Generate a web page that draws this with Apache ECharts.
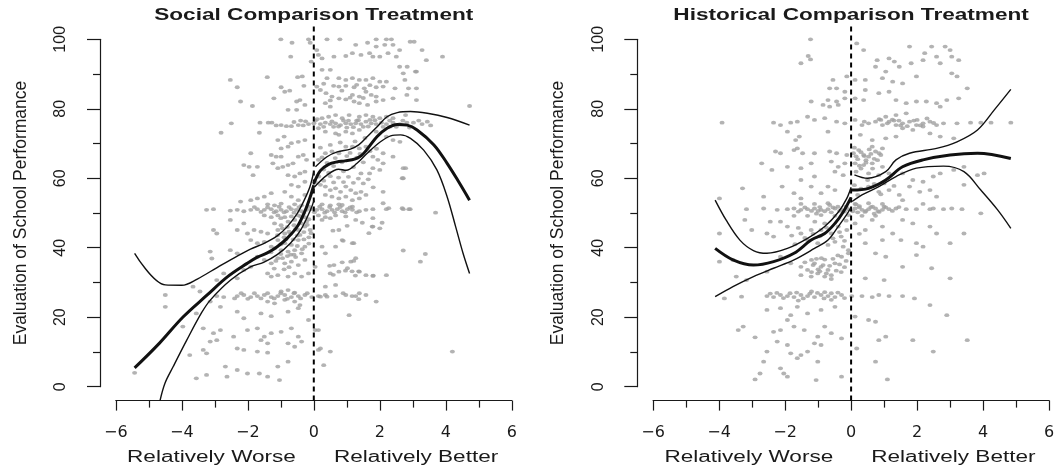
<!DOCTYPE html>
<html>
<head>
<meta charset="utf-8">
<script src="https://cdn.jsdelivr.net/npm/echarts@6/dist/echarts.min.js"></script>
<style>
  html, body { margin: 0; padding: 0; background: #fff; }
  #chart { width: 1060px; height: 472px; }
</style>
</head>
<body>
<div id="chart"></div>
<script>
const xTicks = [-6, -4, -2, 0, 2, 4, 6];
const yTicks = [0, 20, 40, 60, 80, 100];
const panelTitles = ['Social Comparison Treatment', 'Historical Comparison Treatment'];
const sideLabels = ['Relatively Worse', 'Relatively Better'];
const yTitle = 'Evaluation of School Performance';

// scatter (x = relative position, y = evaluation)
const socialPoints = [
  [-1.0,100],[-0.66,99],[-0.16,100],[-0.11,99],[0.4,100],[0.79,100],[1.27,98.4],[1.63,99],[1.89,100],[2.2,100],
  [2.35,100],[1.89,97.9],[2.15,98.4],[2.4,98.4],[2.92,99.3],[3.04,99.3],[3.28,96.9],[3.41,94],[3.9,95],[0.09,96.9],
  [0.14,95.5],[-0.08,93.6],[0.25,94.5],[0.61,95],[0.97,95.2],[1.17,96],[1.43,95.5],[1.69,96],[1.79,95],[2.0,95],
  [2.25,96],[2.5,95],[2.6,96.9],[-0.7,95],[2.6,92.1],[3.11,90.7],[2.71,90.2],[3.08,90.7],[2.83,92.1],
  [-1.41,89.1],[-2.53,88.3],[-2.32,86.2],[-0.99,86.2],[-0.88,84.9],[-0.73,85.2],[-0.49,89.1],[-0.35,89.3],[-0.3,86.6],[0.25,91.2],
  [0.5,91.2],[0.4,88.8],[0.76,88.8],[0.97,88.3],[1.17,88.8],[1.38,88.3],[1.58,88.3],[1.79,88.8],[2.0,87.8],[2.2,87.8],
  [0.76,86.4],[0.97,86.6],[1.22,86.2],[1.53,85.9],[1.89,86.2],[2.1,86.4],[2.46,85.9],[2.76,88.3],[2.87,85.9],[3.11,85.9],
  [0.09,86.4],[0.2,85.4],[0.37,84.5],[0.55,83.5],[0.76,83],[0.97,82.7],[1.17,84],[1.38,83.5],[1.58,84.9],[1.74,84],
  [1.89,83.5],[2.1,82.5],[2.4,83],[2.82,84],[-2.22,82.1],[-1.21,83],[-0.52,82.1],[-0.42,82.5],[-0.27,81.1],[0.35,81.6],
  [0.5,80.6],[1.22,82.1],[1.38,81.6],[1.63,81.1],[1.89,82.1],[3.11,82.5],[4.72,80.8],[-0.78,79.7],[-0.52,79.7],[-1.86,80.8],
  [0.3,87.2],[0.6,86.6],[0.85,85.2],[1.1,83.2],[1.3,86.9],[1.5,83.1],[1.7,86.8],[0.5,82.4],
  [-2.5,75.8],[-1.63,76],[-1.38,76],[-1.27,76],[-1.14,75.2],[-0.99,75.3],[-0.83,75],[-0.68,75],[-0.47,75.3],[-0.32,75.2],
  [-0.16,75.6],[0,75.8],[0.2,75.6],[0.35,76],[0.5,75.6],[0.66,75.8],[0.81,75.3],[0.97,75.8],[1.12,75.6],[1.27,75.8],
  [1.43,75.6],[1.58,76.3],[1.74,75.8],[1.89,75.6],[2.05,76],[2.2,75.6],[2.4,76],[2.61,75.6],[2.82,76],[3.02,76],
  [3.28,75.6],[3.54,75.2],[0.25,77.3],[0.45,77.7],[0.66,78.2],[0.86,77.3],[1.07,78.2],[1.38,77.7],[1.58,78.2],[1.79,77.7],
  [2.0,77.3],[2.2,77.7],[2.4,77.3],[0.35,73.4],[0.66,72.9],[0.76,72.5],[0.97,73.4],[1.17,72.9],[0.14,74.4],[1.38,73.9],
  [1.89,73.4],[2.2,72],[2.4,71],[2.61,70.5],[-2.81,73.1],[-1.65,73.1],[-1.09,71],[-0.9,72],[-0.68,70.1],[-0.47,70.5],
  [-0.27,71],[-0.99,68.6],[-0.78,69.1],[0.6,74.8],[1.0,74.6],[1.5,74.8],[1.3,76.6],[0.9,76.6],[1.7,76.8],[2.3,74.8],
  [2.9,74.6],[0.1,77],[-0.4,76.6],[2.78,78.2],[3.18,76.6],[3.44,76.3],
  [0.3,74.8],[0.55,76.4],[0.75,74.9],[1.05,76.6],[1.2,74.7],[1.35,76.7],[1.65,74.9],[1.85,76.7],[2.1,74.8],[2.3,76.6],
  [2.5,74.8],[2.7,76.6],[0.05,76.6],[-0.25,76.4],[-0.6,76.2],
  [-1.91,67.2],[-2.12,63.8],[-1.96,63.3],[-1.71,63.3],[-1.84,60.9],[-1.29,66.7],[-1.14,66.2],[-0.99,66.2],[-1.24,64.3],[-1.09,62.9],
  [-0.94,63.3],[-0.78,63.8],[-0.63,64.3],[-0.47,66.2],[-0.32,66.7],[-0.22,65.3],[-0.78,60.9],[-0.58,60.5],[-0.42,61.4],[-0.27,61.9],
  [0.14,65.3],[0.35,67.2],[0.55,67.7],[0.76,67.2],[0.97,69.1],[1.17,69.1],[1.38,68.6],[1.58,69.1],[1.79,66.2],[1.94,65.3],
  [2.1,64.3],[1.79,62.9],[2.0,62.4],[1.69,61.4],[1.43,61.4],[2.71,62.9],[2.71,60],[2.1,67.2],[2.4,66.2],[0.3,62.5],
  [0.6,63.5],[0.9,62],[1.2,63.2],[1.5,64.6],[0.5,60.6],[1.0,66.4],[1.3,65.9],[0.2,68.8],[2.78,62.9],[2.68,60],
  [0.15,60.5],[0.3,59.3],[0.45,61.6],[0.6,58.8],[0.75,60.2],[0.9,58.9],[1.05,60.4],[1.2,58.7],[1.35,59.9],[1.5,58.5],
  [1.65,59.7],[1.8,57.4],[0.4,64.4],[0.65,65.8],[0.85,64.6],[1.1,67.3],[1.4,67],[1.7,67.8],[1.9,68.5],[0.25,66],
  [0.5,69.6],[0.8,70.3],[1.25,70.6],[1.55,71.6],
  [0.04,59],[0.2,58.1],[0.35,57.6],[0.5,56.6],[0.66,57.1],[0.81,56.1],[0.97,57.6],[1.12,56.6],[1.27,55.7],[1.43,56.1],
  [1.58,55.2],[0.35,55.2],[0.55,54.7],[0.76,54.2],[0.97,54.7],[1.17,53.7],[1.38,54.2],[0.86,52.3],[1.17,51.8],[2.1,56.1],
  [2.1,52.8],[-0.68,58.1],[-0.47,57.6],[-0.27,59],[-0.88,56.1],[-0.68,54.7],[-0.47,53.7],[-0.27,55.2],[-1.29,55.7],[-1.5,54.7],
  [-2.22,53.3],[-1.91,53.7],[-1.71,54.2],
  [-3.25,50.9],[-3.04,51.1],[-2.53,50.7],[-2.32,50.9],[-2.12,50.5],[-1.91,50.9],[-1.71,51.1],[-1.5,50.9],[-1.29,51.1],[-1.14,50.5],
  [-0.99,50.9],[-0.83,50.5],[-0.68,51.1],[-0.53,50.9],[-0.37,50.5],[-0.22,50.9],[-0.06,51.1],[0.09,50.9],[0.25,51.1],[0.4,50.5],
  [0.55,50.9],[0.71,51.1],[0.86,50.5],[1.02,51.1],[1.17,50.9],[1.38,50.5],[1.58,50.9],[1.79,51.1],[2.2,51.1],[2.71,51.1],
  [2.92,51.1],[3.69,50.1],[2.27,51.4],[2.68,51.4],[2.88,51.1],
  [-1.8,51.7],[-1.6,50.3],[-1.4,51.6],[-1.2,50.2],[-1.05,51.8],[-0.9,50.2],[-0.75,51.7],[-0.6,50.1],[-0.45,51.7],[-0.3,50.1],
  [-0.15,51.8],[0.02,50.2],[0.18,51.8],[0.33,50.1],[0.48,51.7],[0.63,50.2],[0.8,51.7],[0.95,50.2],[1.1,51.6],[1.3,50.2],
  [-1.5,49.3],[-1.29,48.8],[-1.09,49.3],[-0.88,48.8],[-0.68,49],[-0.47,49.3],[-0.27,48.8],[0.14,49.3],[0.35,48.8],[0.66,49.3],
  [0.97,49],[-1.4,52.5],[-1.19,52.2],[-0.99,52.7],[-0.58,52.5],[-0.37,52.2],[0.25,52.5],[0.5,52.2],[0.76,52.5],
  [-2.53,48],[-2.12,47],[-3.04,45.1],[-2.94,44.1],[-2.32,45.1],[-2.01,44.1],[-1.81,45.1],[-1.6,44.6],[-1.4,44.1],[-1.19,47],
  [-0.99,46.5],[-0.78,47.5],[-0.58,48],[-0.37,47],[-0.22,47.5],[-1.09,45.1],[-0.88,44.1],[-0.47,45.1],[-0.27,46.1],[-0.11,45.1],
  [0.25,48],[0.5,48.5],[0.76,45.1],[1.27,48],[1.79,46.1],[2.0,45.6],[1.79,48.5],[-1.91,42.2],[-1.71,41.3],[-1.5,41.7],
  [-1.29,40.3],[-1.09,42.2],[-0.88,41.3],[-0.68,40.8],[-0.47,42.2],[-0.27,40.3],[-1.19,39.8],[-0.99,39.3],[-0.78,38.9],[-0.58,39.3],
  [-0.37,38.4],[0.25,40.3],[0.86,42.2],[1.17,41.3],[-3.14,38.9],[-3.09,36.9],[-2.53,39.3],[-2.32,38.4],[-0.9,43],[-0.7,44],
  [-0.5,43.5],[-0.3,44.5],[-0.15,43],[-0.6,46.5],[-0.8,46],[-1.0,48.5],[-0.4,49],[-0.15,48.2],[1.67,44.2],[2.07,47.2],
  [1.77,46.1],[1.47,47.2],[1.01,46.3],[0.58,44.9],[0.89,42],[1.21,41.3],
  [-1.1,43.6],[-0.95,45.6],[-0.85,42.4],[-0.75,44.6],[-0.62,42.4],[-0.55,45.4],[-0.42,43.7],[-0.3,42.4],[-0.2,46.6],[-0.08,44.2],
  [-1.0,41],[-0.7,38],[-0.5,40.5],[-0.35,39.6],[-0.15,41.2],[-1.3,38.7],[-1.15,36.2],[-0.95,37],[-0.75,34.4],[-0.55,37.3],
  [-1.71,37.4],[-1.5,36.5],[-1.29,35.5],[-1.09,37],[-0.88,35.5],[-0.68,36],[-0.47,35],[-0.27,36.5],[-1.4,32.6],[-1.29,31.7],
  [-1.09,32.1],[-0.78,31.7],[-0.58,32.6],[-0.37,31.7],[-0.16,32.6],[-1.91,34.5],[-2.12,33.6],[-2.32,31.2],[-2.73,32.6],[-2.94,30.7],
  [0.04,34.5],[0.5,32.6],[0.76,33.1],[1.02,34.1],[1.38,33.1],[1.58,32.1],[1.79,31.9],[2.2,32.1],[0.61,35],[1.12,36],
  [1.27,37],[2.71,39.2],[3.38,38.2],[3.23,36],[0.35,38.4],[0.66,40.3],[-3.66,28.8],[-3.45,27.4],[-1.0,38.2],[-0.8,37.6],
  [-0.6,38],[-1.2,34],[-0.9,33.8],[0.86,35.8],[1.21,36.2],[0.48,34.8],[0.96,33.4],[1.16,33.2],[1.36,33.2],[0.59,32.2],
  [1.26,32],[1.8,32],
  [-4.5,26.4],[-4.5,23],[-2.94,26.1],[-2.73,25.8],[-2.32,26.1],[-2.12,26.4],[-1.91,25.8],[-1.71,26.1],[-1.5,26.4],[-1.29,25.8],
  [-1.09,26.1],[-0.88,26.4],[-0.68,25.8],[-0.47,26.1],[-0.27,26.4],[-0.06,25.8],[0.14,26.1],[0.35,26.4],[0.66,26.1],[0.97,26.4],
  [1.27,26.1],[1.58,26.4],[-0.99,27.4],[-0.78,27.8],[-0.58,27.1],[-1.4,24.5],[-1.19,24],[-0.88,25],[-0.58,24.5],[-0.42,23.5],
  [-1.8,26.9],[-1.6,25.4],[-1.4,26.9],[-1.2,25.4],[-1.0,26.9],[-0.8,25.3],[-0.6,26.9],[-0.4,25.4],[-0.2,26.9],[-2.0,25.3],
  [-2.2,26.9],[-2.4,25.4],
  [-3.14,24.5],[-2.83,23],[-2.32,21.6],[-2.12,19.7],[-1.6,21.1],[-1.29,20.3],[-0.78,21.6],[-0.47,22.6],[1.07,20.6],[1.89,24.5],
  [0.35,28.8],[0.66,29.3],[1.38,26.9],[-3.56,21.1],[-3.97,17.3],[0.89,26.9],[1.16,26.1],[1.36,25.2],[0.4,25.9],[0.2,25.9],
  [-3.35,16.8],[-3.04,15.4],[-2.83,16.3],[-3.14,13],[-2.94,13.4],[-2.43,14.4],[-2.01,16.3],[-1.71,16.8],[-1.5,14.4],[-1.29,15.4],
  [-0.99,15.8],[-0.68,16.8],[-0.47,14.4],[-1.6,13.4],[-1.4,12.5],[-0.78,12.5],[-0.58,11.5],[-0.37,13],[-2.32,11],[-2.12,10.6],
  [-1.71,10.1],[-1.4,9.8],[-3.35,10.6],[-3.25,9.6],[-3.76,9.1],[-0.16,19.2],[0.14,16.3],[0.2,11],[0.5,10.1],[4.2,10.1],
  [0.14,10.6],[0.04,16.3],
  [-3.56,2.4],[-3.25,3.4],[-2.68,5.8],[-2.63,2.9],[-2.32,4.8],[-2.01,3.8],[-1.65,3.8],[-1.4,2.9],[-1.04,1.9],[-0.78,7.2],
  [0.3,6.2],[-5.43,4.0],[-1.09,5.8]
];

const historicalPoints = [
  [-1.23,100],[-1.3,95.2],[-1.23,94.2],[-1.52,93.1],[0.17,98.8],[0.38,96.9],[1.77,97.9],[2.23,96],[2.44,97.9],[2.59,95],
  [2.85,97.9],[3.0,96.9],[3.05,95],[3.26,94],[0.79,94],[1.15,94.5],[1.31,93.6],[1.82,93.1],[2.18,94],[2.7,93.1],
  [0.74,92.1],[1.05,90.7],[1.46,92.1],[1.98,89.3],[3.05,90.2],[3.21,89.3],[-0.13,89.3],[0.12,88.3],[0.43,88.3],[0.95,88.8],
  [1.26,87.8],[1.56,87.3],[-0.55,88.3],[-0.44,85.9],[-0.65,85.9],[-0.19,84.9],[0.43,85.4],[0.84,84.5],[1.15,84.9],[3.52,85.9],
  [3.26,83],[-1.21,82.1],[-0.85,81.1],[-0.7,82.5],[-0.44,82.1],[-0.19,83],[0.12,83],[0.38,82.5],[1.36,82.5],[1.67,81.6],
  [1.98,82.1],[2.28,82.1],[2.59,81.6],[2.7,80.6],[2.9,82.5],[-0.65,80.6],[-0.39,81.1],
  [-3.91,76],[-2.35,76],[-2.14,75.3],[-1.83,76],[-1.63,76.3],[-1.32,77.7],[-1.11,76.8],[-0.8,77.3],[-0.44,76.3],[-0.19,75.8],
  [0.12,76.8],[0.33,75.3],[0.53,75.8],[0.74,76.3],[0.95,75.3],[1.15,76.3],[1.36,75.3],[1.56,75.8],[1.77,76.3],[1.98,75.3],
  [2.18,75.8],[2.39,76.3],[2.59,75.3],[2.8,75.8],[3.21,75.8],[3.62,76],[3.93,76],[4.24,76],[4.84,76],[1.05,77.7],
  [1.36,78.2],[1.67,78.7],[1.56,74.4],[1.87,73.9],[2.18,74.9],[-1.93,73.4],[-1.57,72],[-0.7,73.4],[0.28,72.5],[0.64,71],
  [1.05,71.5],[1.36,72],[2.39,72.9],[2.7,72],[3.11,71.5],[0.64,69.1],[0.95,68.6],[-1.68,71],[-1.63,68.6],[1.25,76.9],
  [1.7,75],[2.0,76.8],[1.45,76.6],[0.85,77],[2.3,77.2],
  [1.1,75.8],[1.3,76.6],[1.5,75.2],[1.9,76.6],[2.1,75.2],[2.5,75.9],[0.4,76.3],[0.9,76.8],
  [-2.29,67.7],[-2.14,67.2],[-1.73,68.1],[-1.47,67.2],[-1.11,67.2],[-2.71,64.3],[-2.4,62.4],[-1.93,63.3],[-1.52,62.9],[-1.21,64.3],
  [-0.65,67.7],[-0.44,67.2],[-0.13,66.7],[0.07,67.2],[0.23,68.1],[0.38,66.7],[0.53,66.2],[0.74,67.7],[0.9,66.7],[-0.6,64.8],
  [-0.39,63.3],[-0.19,64.3],[0.12,64.3],[0.38,63.8],[0.64,64.3],[0.95,63.3],[-0.49,61.9],[-0.24,60.9],[0.53,61.4],[0.84,60.9],
  [1.15,61.4],[1.56,61.4],[1.87,59.5],[2.18,59],[2.49,60.5],[2.7,61.4],[3.11,62.4],[3.42,63.3],[3.83,60.9],[4.03,61.4],
  [3.42,58.1],[-1.52,59.5],[-1.11,60.5],[0.2,65.5],[0.45,65.2],[0.3,62.8],[0.6,67],[0.15,61.9],[0.8,65.2],
  [0.15,66.3],[0.3,67.5],[0.45,64.5],[0.55,68.3],[0.7,65.6],[0.85,67.2],[0.25,63.6],[0.65,62.8],[0.4,66.4],[0.1,68.8],
  [-3.29,57.1],[-2.65,54.7],[-3.99,54.2],[-2.09,57.6],[-1.73,55.7],[-1.52,54.2],[-1.21,57.6],[-0.91,55.7],[-0.7,57.6],[-0.49,56.6],
  [0.53,57.6],[0.84,56.1],[1.15,56.6],[1.46,55.2],[1.77,57.6],[2.08,56.1],[2.39,56.6],[2.59,54.7],
  [0.1,58],[0.3,57],[0.5,59.5],[0.7,58.4],[0.9,55.4],[0.2,55.2],[1.0,58.5],[1.3,57.8],
  [-3.17,51.1],[-2.65,51.3],[-2.24,50.9],[-1.93,51.1],[-1.73,51.3],[-1.52,50.9],[-1.32,51.1],[-1.11,51.3],[-0.91,50.9],[-0.7,51.1],
  [-0.49,51.3],[-0.29,50.9],[-0.08,51.1],[0.12,51.3],[0.33,50.9],[0.53,51.1],[0.74,51.3],[0.95,50.9],[1.15,51.1],[1.36,51.3],
  [1.67,51.1],[1.98,51.1],[2.39,51.1],[2.8,51.1],[3.05,51.3],[3.36,51.1],
  [-1.4,51.6],[-1.2,50.6],[-0.95,51.7],[-0.8,50.5],[-0.55,51.6],[-0.35,50.6],[-0.15,51.8],[0.05,50.5],[0.25,51.6],[0.42,50.3],
  [0.6,51.7],[0.82,50.5],[1.0,51.8],[1.25,50.6],[1.45,51.7],[-1.6,50.4],[-1.05,49.8],[-0.65,52.3],[0.15,52.5],[0.7,49.8],
  [-1.52,52.6],[-1.11,52.6],[-0.7,52.8],[0.12,52.6],[0.53,52.8],[0.95,52.6],[1.56,53.7],[-1.73,49.2],[-1.32,49.2],[-0.91,49.4],
  [-0.49,49.2],[-0.08,49.4],[0.33,49.2],[0.74,49.2],[3.93,49.9],[2.18,52.6],[2.49,51.3],[0.2,50.2],[0.45,50.6],[0.65,51.8],
  [0.85,50.3],[1.05,51.6],[0.25,52],[-0.2,50.4],[-0.4,51.8],[-0.6,50.2],[-1.0,50.6],
  [-3.22,48],[-3.99,44.1],[-3.01,45.1],[-2.45,47.5],[-2.14,47.5],[-1.93,46.1],[-2.55,44.1],[-2.35,43.2],[-1.52,44.1],[-1.21,45.1],
  [-0.91,45.1],[-0.6,44.1],[-0.39,46.1],[-0.13,45.1],[0.12,47],[0.43,45.1],[0.64,48],[0.95,46.1],[1.26,44.1],[1.56,48],
  [1.87,47],[2.39,46.1],[2.59,44.1],[3.42,44.1],[-1.32,42.2],[-1.01,41.3],[-0.7,40.8],[-0.49,41.7],[-0.24,40.3],[-0.08,39.3],
  [0.43,41.3],[0.95,42.2],[1.51,42.2],[1.98,41.3],[2.18,40.3],[3.0,41.3],[-0.3,43.2],[-0.8,47],[-1.1,47.5],[0.25,44],
  [-0.15,47.8],[-1.8,43.5],[-1.6,45.7],[-1.4,42.8],[-1.15,44],[-0.95,43.3],[-0.75,45.8],[-0.55,42.7],[-0.35,44.5],[-0.2,42],
  [-1.7,41],
  [-3.99,36],[-3.58,36.5],[-2.14,37.4],[-1.83,35.5],[-1.52,34.5],[-1.32,33.6],[-1.11,35.5],[-0.91,34.5],[-0.7,33.6],[-0.49,35.5],
  [-0.29,37.4],[-1.52,32.1],[-1.21,31.7],[-1.01,32.6],[-0.8,31.7],[-0.6,32.1],[-0.08,38.4],[0.74,38.4],[1.05,37.4],[1.98,37.9],
  [0.43,31.2],[1.0,30.7],[1.56,34.5],[2.44,34.1],[3.0,31.2],[-2.55,33.1],[-3.17,30.7],[-3.48,31.7],[-1.2,36.5],[-1.0,33.8],
  [-0.8,36.6],[-1.4,35.8],[-0.3,33],
  [-1.2,33],[-1.05,36.8],[-0.95,33.2],[-0.85,35],[-0.75,32.6],[-0.65,34.8],[-0.55,36.8],[-0.45,33.4],[-0.35,35.2],[-0.2,34.4],
  [-0.15,36.2],[-1.15,35],[-0.6,31],[-0.4,37.8],[-0.9,37],
  [-3.84,25.4],[-3.32,25.9],[-2.55,26.1],[-2.35,25.8],[-2.14,26.4],[-1.93,26.1],[-1.73,25.8],[-1.52,26.4],[-1.32,26.1],[-1.11,25.8],
  [-0.91,26.4],[-0.7,26.1],[-0.49,25.8],[-0.29,26.4],[0.02,26.1],[0.33,26.1],[0.64,25.8],[1.15,26.1],[1.56,26.1],
  [-2.45,26.8],[-2.25,27],[-2.05,25.5],[-1.85,26.9],[-1.65,27.1],[-1.45,25.4],[-1.25,26.8],[-1.02,27],[-0.82,25.4],[-0.6,26.9],
  [-0.4,27.1],[-0.2,25.5],
  [-2.55,22.1],[-2.14,22.6],[-1.63,23],[-1.32,21.1],[-0.91,22.1],[-0.49,23],[0.84,26.4],[1.92,25.4],[2.39,23.5],[0.12,20.2],
  [0.53,19.2],[0.74,18.7],[2.9,20.6],[-1.83,20.6],[-1.93,19.2],[-1.2,27.4],[-0.8,27.2],[-0.6,25],[-1.6,24.8],
  [-3.42,16.3],[-3.27,17.3],[-2.35,15.8],[-2.14,16.3],[-1.73,17.3],[-1.42,16.3],[-1.01,14.4],[-0.8,17.3],[-0.6,15.4],[-0.29,13.9],
  [-2.24,13],[-1.93,12],[-1.11,12.5],[-0.91,12],[-2.91,14.2],[-1.83,9.6],[-1.63,8.2],[-1.52,9.1],[-1.32,10.1],[0.84,13.4],
  [1.05,14.4],[1.87,13.4],[3.52,13.4],[0.17,11],[2.49,10.1],[-2.55,10.1],[-2.65,7.2],
  [-2.91,2.1],[-2.76,3.8],[-2.14,5.3],[-2.04,3.8],[-1.93,2.9],[-1.06,1.9],[-0.29,2.9],[0.74,7.2],[1.1,2.1],[-1.01,7.2]
];

// fitted curves, left and right of the cut at 0
const socialFitLeft = [[-5.43,5.4],[-4.69,12.4],[-3.97,20],[-3.23,26.4],[-2.62,31.6],[-2.02,35.5],[-1.71,37.3],[-1.41,38.5],[-1.11,40.3],[-0.81,42.7],[-0.5,46.1],[-0.27,50.5],[-0.12,54.3],[0,58]];
const socialUpperLeft = [[-5.43,38.4],[-4.5,29.3],[-4.0,29.2],[-3.53,31],[-2.93,34.3],[-2.32,37.6],[-1.92,39.6],[-1.52,41.2],[-1.11,43.4],[-0.81,46],[-0.5,49.9],[-0.3,53.5],[-0.12,57.5],[0,62]];
const socialLowerLeft = [[-4.66,-4],[-4.51,1],[-4.26,5.8],[-3.85,13.4],[-3.4,21.3],[-3.13,25],[-2.52,30.7],[-1.92,34.5],[-1.52,35.8],[-1.11,38],[-0.71,41.3],[-0.4,45.1],[-0.1,50.9],[0,53.5]];
const socialFitRight = [[0,58.5],[0.2,62.2],[0.45,64],[0.7,64.7],[0.95,65],[1.26,65.6],[1.45,66.6],[1.62,68.4],[1.92,72],[2.22,74.4],[2.53,75.5],[2.83,75.3],[3.13,73.9],[3.64,69.6],[4.04,64.3],[4.39,59],[4.72,53.7]];
const socialUpperRight = [[0.05,63.3],[0.4,66.2],[0.71,67.6],[1.11,68.4],[1.36,69.6],[1.62,72],[1.92,74.8],[2.22,77.7],[2.53,78.9],[2.93,79.2],[3.44,78.7],[4.04,77.5],[4.72,75.3]];
const socialLowerRight = [[0.02,57.5],[0.4,60.9],[0.75,62.6],[0.98,62.3],[1.31,64.3],[1.62,67.2],[2.02,70.5],[2.33,72.2],[2.63,72.5],[2.93,71.5],[3.33,68.1],[3.73,62.4],[4.04,54.7],[4.3,46],[4.52,38.5],[4.72,32.6]];

const histFitLeft = [[-4.12,39.8],[-3.58,36.5],[-2.96,35],[-2.35,36],[-1.73,38.4],[-1.21,42.2],[-0.8,44.1],[-0.49,47],[-0.24,50.3],[0,54.5]];
const histUpperLeft = [[-4.12,53.7],[-3.79,48],[-3.37,42.2],[-2.96,39.2],[-2.55,38.4],[-1.93,39.8],[-1.32,42.7],[-0.8,46.1],[-0.39,50.2],[-0.13,54.2],[0,57.4]];
const histLowerLeft = [[-4.12,25.9],[-3.58,28.8],[-2.96,31.7],[-2.35,34.1],[-1.73,36.5],[-1.11,39.8],[-0.7,42.2],[-0.39,46.1],[-0.13,49.6],[0,51.6]];
const histFitRight = [[0.02,56.6],[0.53,57.1],[1.05,59.5],[1.56,63.3],[2.18,65.3],[3.0,66.7],[3.83,67.2],[4.84,65.7]];
const histUpperRight = [[0.1,61],[0.5,60],[1.05,61.9],[1.36,65.3],[1.77,67.2],[2.59,68.6],[3.21,70.5],[3.83,73.9],[4.34,79.7],[4.84,85.6]];
const histLowerRight = [[0.03,53.3],[0.33,55.2],[0.84,57.6],[1.36,60.5],[1.98,62.9],[2.8,63.5],[3.42,61.9],[3.93,56.6],[4.44,50.9],[4.84,45.6]];

const cutLine = [[0, -4], [0, 104]];

const ink = '#1a1a1a';
const panelLeft = [115.8, 653.1];

const chart = echarts.init(document.getElementById('chart'));

function minus(v) {
  return v < 0 ? '\u2212' + Math.abs(v) : String(v);
}

function curve(data, gi, width) {
  return {
    type: 'line', xAxisIndex: gi, yAxisIndex: gi, data: data,
    symbol: 'none', smooth: 0.35, clip: false, silent: true, z: 4,
    lineStyle: { color: '#111', width: width }
  };
}

function dots(data, gi) {
  return {
    type: 'scatter', xAxisIndex: gi, yAxisIndex: gi, data: data,
    symbol: 'path://M0,5A5,5,0,1,1,10,5A5,5,0,1,1,0,5Z',
    symbolSize: [5, 3.8], clip: false, silent: true, z: 2,
    itemStyle: { color: '#a0a0a0' }
  };
}

function cut(gi) {
  return {
    type: 'line', xAxisIndex: gi, yAxisIndex: gi, data: cutLine,
    symbol: 'none', clip: false, silent: true, z: 3,
    lineStyle: { color: '#000', width: 2, type: [5, 4] }
  };
}

const tickStyle = { color: ink, width: 1.2 };

const option = {
  animation: false,
  backgroundColor: '#fff',
  grid: panelLeft.map(l => ({ left: l, top: 39.3, width: 396, height: 347.4 })),
  xAxis: [0, 1].map(i => ({
    gridIndex: i, type: 'value',
    min: xTicks[0], max: xTicks[xTicks.length - 1], interval: xTicks[1] - xTicks[0],
    offset: 13.9,
    axisLine: { show: true, onZero: false, lineStyle: tickStyle },
    axisTick: { show: true, length: 10, lineStyle: tickStyle },
    minorTick: { show: true, splitNumber: 2, length: 7, lineStyle: tickStyle },
    splitLine: { show: false },
    axisLabel: {
      margin: 24,
      formatter: v => '{t|' + minus(v) + '}',
      rich: { t: { color: ink, fontFamily: 'DejaVu Sans', fontSize: 16 } }
    }
  })),
  yAxis: [0, 1].map(i => ({
    gridIndex: i, type: 'value', position: 'left',
    min: yTicks[0], max: yTicks[yTicks.length - 1], interval: yTicks[1] - yTicks[0],
    offset: 15.8,
    name: yTitle, nameLocation: 'middle', nameRotate: 90, nameGap: 70,
    nameTextStyle: { color: ink, fontFamily: 'Liberation Sans', fontSize: 17.5 },
    axisLine: { show: true, onZero: false, lineStyle: tickStyle },
    axisTick: { show: true, length: 13, lineStyle: tickStyle },
    minorTick: { show: true, splitNumber: 2, length: 7, lineStyle: tickStyle },
    splitLine: { show: false },
    axisLabel: {
      rotate: 90, margin: 31,
      formatter: v => '{t|' + v + '}',
      rich: { t: { color: ink, fontFamily: 'Liberation Sans', fontSize: 16 } }
    }
  })),
  series: [
    dots(socialPoints, 0),
    cut(0),
    curve(socialFitLeft, 0, 3), curve(socialFitRight, 0, 3),
    curve(socialUpperLeft, 0, 1.4), curve(socialUpperRight, 0, 1.4),
    curve(socialLowerLeft, 0, 1.4), curve(socialLowerRight, 0, 1.4),
    dots(historicalPoints, 1),
    cut(1),
    curve(histFitLeft, 1, 3), curve(histFitRight, 1, 3),
    curve(histUpperLeft, 1, 1.4), curve(histUpperRight, 1, 1.4),
    curve(histLowerLeft, 1, 1.4), curve(histLowerRight, 1, 1.4)
  ]
};

chart.setOption(option);

// titles and side labels, placed from the axes
const texts = [];
[0, 1].forEach(i => {
  const mid = chart.convertToPixel({ gridIndex: i }, [0, 0]);
  const worse = chart.convertToPixel({ gridIndex: i }, [-3.1, 0]);
  const better = chart.convertToPixel({ gridIndex: i }, [3.1, 0]);
  texts.push({
    type: 'text', x: mid[0], y: 15.6, scaleX: 1.33,
    style: { text: panelTitles[i], font: 'bold 17px "Liberation Sans"', fill: ink, align: 'center', verticalAlign: 'middle' }
  });
  texts.push({
    type: 'text', x: worse[0], y: 458, scaleX: 1.41,
    style: { text: sideLabels[0], font: '16px "Liberation Sans"', fill: ink, align: 'center', verticalAlign: 'middle' }
  });
  texts.push({
    type: 'text', x: better[0], y: 458, scaleX: 1.41,
    style: { text: sideLabels[1], font: '16px "Liberation Sans"', fill: ink, align: 'center', verticalAlign: 'middle' }
  });
});
chart.setOption({ graphic: texts });
</script>
</body>
</html>
